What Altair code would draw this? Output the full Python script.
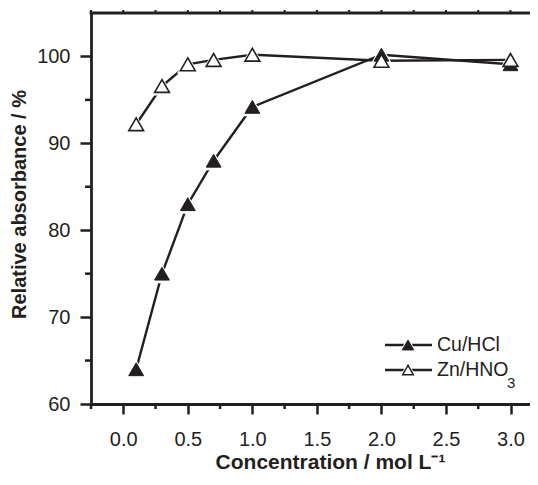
import altair as alt
import pandas as pd

# ---- data ----
conc = [0.1, 0.3, 0.5, 0.7, 1.0, 2.0, 3.0]
cu_hcl = [64.0, 75.0, 83.0, 88.0, 94.2, 100.2, 99.1]
zn_hno3 = [92.2, 96.6, 99.1, 99.6, 100.2, 99.5, 99.6]
series = ["Cu/HCl", "Zn/HNO3"]
legend_text = ["Cu/HCl", "Zn/HNO"]
legend_sub = ["", "3"]

x_major = [0.0, 0.5, 1.0, 1.5, 2.0, 2.5, 3.0]
x_minor = [-0.25, 0.25, 0.75, 1.25, 1.75, 2.25, 2.75]
x_top = [-0.25, 0.0, 0.25, 0.5, 0.75, 1.0, 1.25, 1.5, 1.75, 2.0, 2.25, 2.5, 2.75, 3.0]
y_major = [60, 70, 80, 90, 100]
y_minor = [65, 75, 85, 95]

INK = "#231f20"
FONT = "Liberation Sans"
W, H = 439, 391

df = pd.DataFrame({
    "c": conc + conc,
    "v": cu_hcl + zn_hno3,
    "s": [series[0]] * len(conc) + [series[1]] * len(conc),
})
df_cu = df[df.s == series[0]]
df_zn = df[df.s == series[1]]
df_xminor = pd.DataFrame({"c": x_minor})
df_xtop = pd.DataFrame({"c": x_top})
df_yminor = pd.DataFrame({"v": y_minor})

xscale = alt.Scale(domain=[-0.25, 3.151], nice=False, zero=False)
yscale = alt.Scale(domain=[60, 105], nice=False, zero=False)

xaxis = alt.Axis(
    values=x_major, format=".1f", grid=False,
    tickSize=10, tickWidth=2.5, tickColor=INK,
    domainColor=INK, domainWidth=2.8,
    labelFont=FONT, labelFontSize=20, labelColor=INK,
    labelBaseline="alphabetic", labelPadding=31, labelFlush=False,
    title="Concentration / mol L\u207b\u00b9",
    titleFont=FONT, titleFontSize=21, titleFontWeight="bold", titleColor=INK,
    titleX=239, titleY=64, titleBaseline="alphabetic",
)
yaxis = alt.Axis(
    values=y_major, format="d", grid=False,
    tickSize=11, tickWidth=2.5, tickColor=INK,
    domainColor=INK, domainWidth=2.8,
    labelFont=FONT, labelFontSize=20, labelColor=INK, labelPadding=10,
    title="Relative absorbance / %",
    titleFont=FONT, titleFontSize=20, titleFontWeight="bold", titleColor=INK,
    titleX=-72, titleY=191, titleBaseline="middle", titleAngle=270,
)

X = alt.X("c:Q", scale=xscale, axis=xaxis)
Y = alt.Y("v:Q", scale=yscale, axis=yaxis)

lines = alt.Chart(df).mark_line(color=INK, strokeWidth=2.4).encode(x=X, y=Y, detail="s:N")
halo = alt.Chart(df).mark_point(shape="triangle-up", filled=True, color="white",
                                size=480, opacity=1).encode(x=X, y=Y)
cu_pts = alt.Chart(df_cu).mark_point(shape="triangle-up", filled=True, fill=INK,
                                     stroke=INK, strokeWidth=1, size=220, opacity=1).encode(x=X, y=Y)
zn_pts = alt.Chart(df_zn).mark_point(shape="triangle-up", filled=True, fill="white",
                                     stroke=INK, strokeWidth=1.6, size=220, opacity=1).encode(x=X, y=Y)

xminor = alt.Chart(df_xminor).mark_rule(color=INK, strokeWidth=2.5).encode(
    x=X, y=alt.value(H), y2=alt.value(H + 5))
xtop = alt.Chart(df_xtop).mark_rule(color=INK, strokeWidth=2).encode(
    x=X, y=alt.value(0), y2=alt.value(-3))
yminor = alt.Chart(df_yminor).mark_rule(color=INK, strokeWidth=2.5).encode(
    y=Y, x=alt.value(0), x2=alt.value(-6))
topline = alt.Chart(df_xminor.head(1)).mark_rule(color=INK, strokeWidth=2.8).encode(
    x=alt.value(-1.4), x2=alt.value(W), y=alt.value(0))

# ---- manual legend ----
leg_layers = []
leg_rows = [332, 357]
for i, name in enumerate(series):
    d = pd.DataFrame({"label": [legend_text[i]], "sub": [legend_sub[i]]})
    yy = leg_rows[i]
    base = alt.Chart(d)
    leg_layers.append(base.mark_rule(color=INK, strokeWidth=2.4).encode(
        x=alt.value(294), x2=alt.value(341), y=alt.value(yy)))
    leg_layers.append(base.mark_point(shape="triangle-up", filled=True, color="white",
                                      size=320, opacity=1).encode(x=alt.value(317), y=alt.value(yy)))
    if i == 0:
        leg_layers.append(base.mark_point(shape="triangle-up", filled=True, fill=INK, stroke=INK,
                                          strokeWidth=1, size=130, opacity=1).encode(
            x=alt.value(317), y=alt.value(yy)))
    else:
        leg_layers.append(base.mark_point(shape="triangle-up", filled=True, fill="white", stroke=INK,
                                          strokeWidth=1.5, size=115, opacity=1).encode(
            x=alt.value(317), y=alt.value(yy)))
    leg_layers.append(base.mark_text(align="left", baseline="middle", font=FONT, fontSize=19.5,
                                     color=INK).encode(
        x=alt.value(346), y=alt.value(yy), text="label:N"))
    if legend_sub[i]:
        leg_layers.append(base.mark_text(align="left", baseline="alphabetic", font=FONT, fontSize=15,
                                         color=INK).encode(
            x=alt.value(416), y=alt.value(yy + 18), text="sub:N"))

chart = alt.layer(
    lines, halo, cu_pts, zn_pts, xminor, xtop, yminor, topline, *leg_layers
).properties(
    width=W, height=H,
    padding={"left": 83, "top": 5, "right": 0, "bottom": 68},
    autosize=alt.AutoSizeParams(type="none"),
    background="white",
).configure_view(stroke=None)

chart.save("out.html", embed_options={"renderer": "svg", "actions": False})
